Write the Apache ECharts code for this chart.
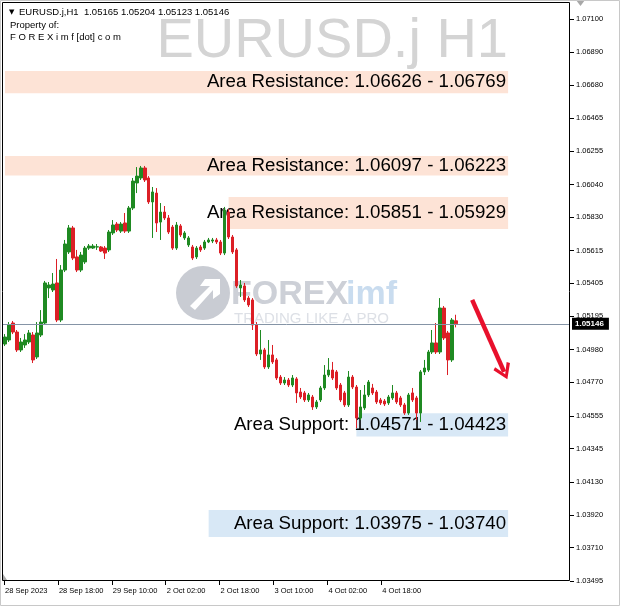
<!DOCTYPE html>
<html><head><meta charset="utf-8">
<script src="https://cdn.jsdelivr.net/npm/echarts@6/dist/echarts.min.js"></script>
<style>html,body{margin:0;padding:0;background:#fff}#c{width:620px;height:606px}</style>
</head><body><div id="c"></div>
<script>
// ---------- data ----------
const symbolName = 'EURUSD.j';
const timeframe = 'H1';
const headerOHLC = ['1.05165', '1.05204', '1.05123', '1.05146'];
const currentPrice = 1.05146;

const open = [
1.05016,1.05042,1.05151,1.05093,1.04978,1.05010,1.05029,1.05074,1.04933,1.05074,
1.05151,1.05376,1.05363,1.05408,1.05170,1.05491,1.05607,1.05761,1.05575,1.05491,
1.05543,1.05632,1.05632,1.05639,1.05639,1.05632,1.05620,1.05729,1.05786,1.05741,
1.05793,1.05741,1.05889,1.06050,1.06082,1.06146,1.06082,1.05928,1.05985,1.05799,
1.05863,1.05825,1.05767,1.05632,1.05774,1.05697,1.05652,1.05639,1.05575,1.05639,
1.05632,1.05671,1.05677,1.05684,1.05671,1.05600,1.05863,1.05703,1.05620,1.05376,
1.05389,1.05311,1.05299,1.05138,1.04952,1.04978,1.04869,1.04946,1.04914,1.04804,
1.04766,1.04785,1.04753,1.04792,1.04708,1.04702,1.04657,1.04676,1.04612,1.04657,
1.04734,1.04817,1.04849,1.04837,1.04753,1.04702,1.04625,1.04804,1.04740,1.04541,
1.04606,1.04689,1.04734,1.04708,1.04657,1.04650,1.04638,1.04670,1.04702,1.04670,
1.04625,1.04573,1.04702,1.04670,1.04573,1.04837,1.04849,1.04965,1.05023,1.04965,
1.05247,1.05087,1.04914,1.05165];
const high = [
1.05080,1.05157,1.05164,1.05106,1.05055,1.05080,1.05106,1.05093,1.05157,1.05234,
1.05421,1.05414,1.05472,1.05562,1.05523,1.05684,1.05780,1.05774,1.05620,1.05607,
1.05645,1.05658,1.05658,1.05658,1.05645,1.05645,1.05748,1.05812,1.05799,1.05799,
1.05857,1.05902,1.06082,1.06152,1.06159,1.06159,1.06094,1.06024,1.06017,1.05921,
1.05902,1.05844,1.05780,1.05799,1.05786,1.05741,1.05709,1.05652,1.05645,1.05652,
1.05684,1.05697,1.05697,1.05697,1.05684,1.05896,1.05883,1.05716,1.05632,1.05427,
1.05408,1.05324,1.05311,1.05157,1.05106,1.04991,1.05042,1.05010,1.04926,1.04817,
1.04804,1.04798,1.04817,1.04804,1.04734,1.04715,1.04702,1.04689,1.04657,1.04747,
1.04881,1.04926,1.04901,1.04849,1.04766,1.04715,1.04843,1.04817,1.04753,1.04721,
1.04753,1.04785,1.04760,1.04721,1.04670,1.04663,1.04689,1.04753,1.04715,1.04683,
1.04638,1.04702,1.04734,1.04683,1.04849,1.04914,1.04978,1.05106,1.05151,1.05311,
1.05260,1.05100,1.05183,1.05204];
const low = [
1.05003,1.05029,1.05080,1.04965,1.04965,1.04991,1.05016,1.04894,1.04920,1.05061,
1.05138,1.05311,1.05350,1.05157,1.05157,1.05478,1.05594,1.05555,1.05478,1.05478,
1.05530,1.05620,1.05626,1.05620,1.05607,1.05562,1.05607,1.05716,1.05735,1.05729,
1.05729,1.05729,1.05876,1.05985,1.06069,1.06056,1.05915,1.05697,1.05735,1.05684,
1.05812,1.05722,1.05620,1.05620,1.05703,1.05684,1.05639,1.05555,1.05562,1.05607,
1.05620,1.05664,1.05664,1.05658,1.05587,1.05587,1.05690,1.05594,1.05376,1.05318,
1.05286,1.05254,1.05106,1.04939,1.04914,1.04856,1.04856,1.04888,1.04785,1.04753,
1.04753,1.04740,1.04740,1.04638,1.04663,1.04644,1.04644,1.04593,1.04599,1.04644,
1.04721,1.04804,1.04785,1.04721,1.04644,1.04612,1.04612,1.04727,1.04477,1.04528,
1.04593,1.04676,1.04689,1.04631,1.04625,1.04618,1.04625,1.04657,1.04631,1.04612,
1.04561,1.04561,1.04644,1.04528,1.04516,1.04817,1.04837,1.04952,1.04952,1.04952,
1.05042,1.04817,1.04901,1.05123];
const close = [
1.05061,1.05138,1.05093,1.04978,1.05029,1.05042,1.05087,1.04914,1.05087,1.05157,
1.05408,1.05395,1.05401,1.05170,1.05491,1.05658,1.05761,1.05568,1.05491,1.05587,
1.05632,1.05645,1.05645,1.05640,1.05613,1.05600,1.05735,1.05780,1.05748,1.05786,
1.05741,1.05889,1.06062,1.06094,1.06146,1.06069,1.05928,1.05992,1.05793,1.05863,
1.05825,1.05735,1.05632,1.05780,1.05716,1.05729,1.05697,1.05568,1.05632,1.05620,
1.05671,1.05684,1.05684,1.05671,1.05600,1.05876,1.05703,1.05607,1.05389,1.05395,
1.05299,1.05267,1.05138,1.04952,1.04978,1.04869,1.04946,1.04901,1.04798,1.04766,
1.04785,1.04753,1.04798,1.04702,1.04676,1.04657,1.04689,1.04612,1.04644,1.04734,
1.04817,1.04849,1.04798,1.04734,1.04657,1.04625,1.04804,1.04740,1.04541,1.04612,
1.04689,1.04772,1.04702,1.04644,1.04638,1.04631,1.04676,1.04702,1.04644,1.04625,
1.04573,1.04689,1.04657,1.04573,1.04837,1.04862,1.04965,1.05023,1.04965,1.05247,
1.05055,1.04914,1.05170,1.05146];

const slotCount = 142;           // bar slots incl. empty chart shift on the right
const xTickLabels = ['28 Sep 2023','28 Sep 18:00','29 Sep 10:00','2 Oct 02:00','2 Oct 18:00','3 Oct 10:00','4 Oct 02:00','4 Oct 18:00'];
const xTickSlots = [-0.25, 13.25, 26.75, 40.25, 53.75, 67.25, 80.75, 94.25];
const yTickLabels = ['1.07100','1.06890','1.06680','1.06465','1.06255','1.06040','1.05830','1.05615','1.05405','1.05195','1.04980','1.04770','1.04555','1.04345','1.04130','1.03920','1.03710','1.03495'];
const yMin = 1.03495, yMax = 1.07205;

const zoneText  = ['Area Resistance: 1.06626 - 1.06769','Area Resistance: 1.06097 - 1.06223','Area Resistance: 1.05851 - 1.05929','Area Support: 1.04571 - 1.04423','Area Support: 1.03975 - 1.03740'];
const zoneKind  = ['res','res','res','sup','sup'];
const zoneTop   = [1.06769, 1.06223, 1.05960, 1.04571, 1.03951];
const zoneBot   = [1.06626, 1.06097, 1.05754, 1.04423, 1.03778];
const zoneFrom  = [0, 0, 56, 88, 51];
const zoneTo    = [126, 126, 126, 126, 126];

const arrowFrom = [117, 1.05299];
const arrowTo   = [125, 1.04837];

// ---------- chart ----------
const FONT = '"Liberation Sans", Arial, sans-serif';
const UP = '#1f8a22', DOWN = '#dc1f26';
const RES = '#fde3d6', SUP = '#d8e8f6';
const slots = Array.from({length: slotCount}, (_, i) => String(i));
const candles = open.map((o, i) => [o, close[i], low[i], high[i]]);
const yTickValues = yTickLabels.map(Number);
const zonePad = [[5,0,0,0],[5,0,0,0],[0,0,3,0],[3,0,0,0],[2,0,0,0]];

const zoneData = zoneText.map((t, i) => [
  { xAxis: zoneFrom[i], yAxis: zoneTop[i],
    itemStyle: { color: zoneKind[i] === 'res' ? RES : SUP },
    label: { show: true, position: 'insideRight', formatter: t, distance: 2, padding: zonePad[i],
             fontSize: 18.7, color: '#000', fontFamily: FONT } },
  { xAxis: zoneTo[i], yAxis: zoneBot[i] }
]);

const chart = echarts.init(document.getElementById('c'), null, {renderer: 'canvas', width: 620, height: 606});
chart.setOption({
  animation: false,
  backgroundColor: '#fff',
  grid: { left: 3, right: 50, top: 3, bottom: 25, containLabel: false },
  xAxis: [
    { type: 'category', data: slots, boundaryGap: true, show: false },
    { type: 'value', min: -0.5, max: slotCount - 0.5, position: 'bottom',
      axisLine: { show: false, onZero: false },
      splitLine: { show: false },
      axisTick: { show: true, customValues: xTickSlots, length: 4, lineStyle: { color: '#000' } },
      axisLabel: { show: true, customValues: xTickSlots, align: 'left', margin: 6, padding: [0,0,0,1],
        fontSize: 7.5, fontFamily: FONT, color: '#000',
        formatter: v => { const k = xTickSlots.findIndex(s => Math.abs(s - v) < 1e-6); return k >= 0 ? xTickLabels[k] : ''; } } }
  ],
  yAxis: {
    type: 'value', position: 'right', min: yMin, max: yMax, scale: true,
    axisLine: { show: false, onZero: false }, splitLine: { show: false },
    axisTick: { show: true, customValues: yTickValues, length: 4, lineStyle: { color: '#000' } },
    axisLabel: { show: true, customValues: yTickValues, margin: 6, fontSize: 7.5, fontFamily: FONT, color: '#000',
      formatter: v => { let k = 0, d = 1; yTickValues.forEach((t, i) => { if (Math.abs(t - v) < d) { d = Math.abs(t - v); k = i; } }); return yTickLabels[k]; } }
  },
  series: [
    { type: 'line', data: [], z: 1, silent: true,
      markArea: { silent: true, data: zoneData } },
    { type: 'candlestick', data: candles, z: 3, barWidth: 3, silent: true,
      itemStyle: { color: UP, color0: DOWN, borderColor: UP, borderColor0: DOWN, borderWidth: 1 } },
    { type: 'line', data: [], z: 4, silent: true,
      markLine: { silent: true, symbol: ['none', 'none'], precision: 5,
        data: [{ yAxis: currentPrice }],
        lineStyle: { color: '#8594a6', width: 1, type: 'solid' },
        label: { show: true, position: 'end', formatter: headerOHLC[3], distance: 2,
          backgroundColor: '#000', color: '#fff', fontSize: 8, fontFamily: FONT, fontWeight: 'bold', padding: [2, 5, 2, 3] } } },
    { type: 'line', data: [], z: 5, silent: true,
      markLine: { silent: true, precision: 5, symbol: ['none', 'path://M0,0 L10,13 L7,15 L0,5 L-7,15 L-10,13 Z'], symbolSize: [18, 16],
        data: [[{ coord: arrowFrom }, { coord: arrowTo }]],
        lineStyle: { color: '#e8102c', width: 4.5, type: 'solid' },
        label: { show: false } } }
  ],
  graphic: [
    { type: 'text', z: 0, silent: true, style: { text: symbolName + ' ' + timeframe, x: 508, y: 42, textAlign: 'right', textVerticalAlign: 'middle', font: '56px ' + FONT, fill: '#d4d4d4' } },
    // FOREXimf watermark logo
    { type: 'circle', z: 0, silent: true, shape: { cx: 203, cy: 293, r: 27 }, style: { fill: '#c9ccd3' } },
    { type: 'polygon', z: 0, silent: true, shape: { points: [[190,306],[210,286],[200,286],[205,279],[220,279],[220,294],[213,299],[213,290],[195,310]] }, style: { fill: '#fff' } },
    { type: 'text', z: 0, silent: true, style: { text: 'FOREX', x: 231, y: 295, textVerticalAlign: 'middle', font: 'bold 34px ' + FONT, fill: '#cdd0d7' } },
    { type: 'text', z: 0, silent: true, style: { text: 'imf', x: 346, y: 295, textVerticalAlign: 'middle', font: 'bold 34px ' + FONT, fill: '#c9dcef' } },
    { type: 'text', z: 0, silent: true, style: { text: 'TRADING LIKE A PRO', x: 234, y: 319, textVerticalAlign: 'middle', font: '15px ' + FONT, fill: '#dde0e6' } },
    // header
    { type: 'text', z: 20, silent: true, style: { text: '\u25BC', x: 9, y: 12, textVerticalAlign: 'middle', font: '7px "DejaVu Sans"', fill: '#000' } },
    { type: 'text', z: 20, silent: true, style: { text: symbolName + ',' + timeframe + '  ' + headerOHLC.join(' '), x: 19, y: 12, textVerticalAlign: 'middle', font: '9.5px ' + FONT, fill: '#000' } },
    { type: 'text', z: 20, silent: true, style: { text: 'Property of:', x: 10, y: 25, textVerticalAlign: 'middle', font: '9.5px ' + FONT, fill: '#000' } },
    { type: 'text', z: 20, silent: true, style: { text: 'F O R E X i m f [dot] c o m', x: 10, y: 37, textVerticalAlign: 'middle', font: '9.5px ' + FONT, fill: '#000' } },
    // frame and markers
    { type: 'rect', z: 30, silent: true, shape: { x: 2.5, y: 2.5, width: 567, height: 578 }, style: { fill: 'transparent', stroke: '#000', lineWidth: 1 } },
    { type: 'polygon', z: 30, silent: true, shape: { points: [[576,0],[585,0],[580.5,6]] }, style: { fill: '#a8a8a8' } },
    { type: 'polygon', z: 30, silent: true, shape: { points: [[3,574],[3,580],[7,580]] }, style: { fill: '#a8a8a8' } },
    { type: 'rect', z: 30, silent: true, shape: { x: 0.5, y: 0.5, width: 619, height: 605 }, style: { fill: 'transparent', stroke: '#c8c8c8', lineWidth: 1 } }
  ]
});
</script>
</body></html>
